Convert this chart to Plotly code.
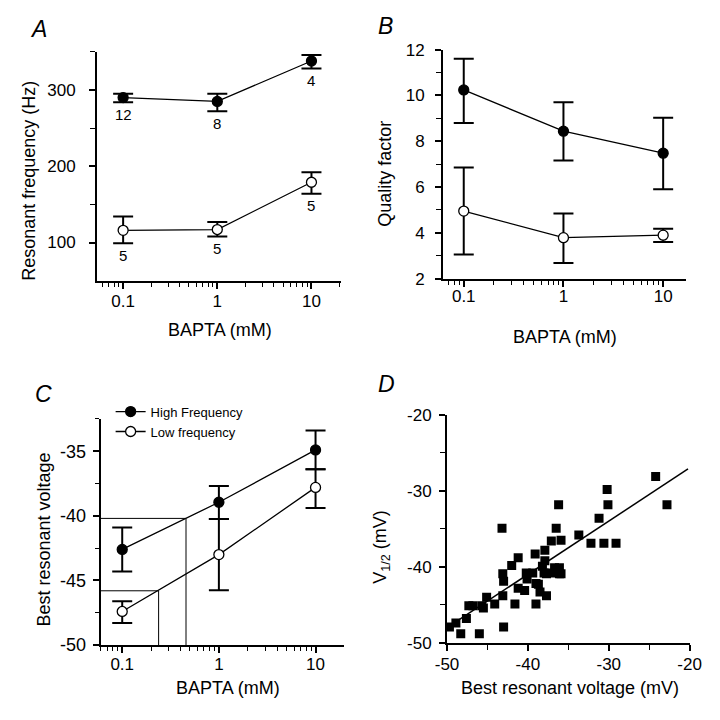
import math
import plotly.graph_objects as go

# BAPTA concentrations (mM)
bapta = [0.1, 1, 10]

# A: resonant frequency (Hz)
freq_high = [290, 285, 338]
freq_high_up = [5, 10, 8]
freq_high_dn = [6, 13, 10]
freq_low = [116, 117, 179]
freq_low_up = [18, 10, 13]
freq_low_dn = [17, 9, 15]
n_high = ["12", "8", "4"]
n_low = ["5", "5", "5"]

# B: quality factor
q_high = [10.24, 8.44, 7.48]
q_high_up = [1.36, 1.26, 1.55]
q_high_dn = [1.44, 1.28, 1.58]
q_low = [4.95, 3.79, 3.9]
q_low_up = [1.9, 1.06, 0.28]
q_low_dn = [1.9, 1.11, 0.3]

# C: best resonant voltage (mV)
v_high = [-42.6, -38.95, -34.9]
v_high_up = [1.7, 1.25, 1.5]
v_high_dn = [1.7, 1.3, 1.5]
v_low = [-47.4, -43.0, -37.8]
v_low_up = [0.8, 2.75, 1.4]
v_low_dn = [0.9, 2.75, 1.6]
hf_ref_x = [0.06, 0.457, 0.457]
hf_ref_y = [-40.2, -40.2, -50]
lf_ref_x = [0.06, 0.238, 0.238]
lf_ref_y = [-45.8, -45.8, -50]

# D: V1/2 vs best resonant voltage
best_v = [-49.7, -48.9, -48.3, -47.6, -47.3, -46.8, -46.0, -45.7, -45.5, -45.1,
          -44.1, -43.2, -43.1, -43.0, -43.1, -43.0, -42.0, -41.6, -41.2, -41.2,
          -40.4, -40.2, -40.1, -39.4, -39.1, -39.0, -39.0, -38.7, -38.5, -38.2,
          -37.9, -37.9, -37.7, -37.1, -36.7, -36.5, -36.2, -35.9, -36.1, -37.7,
          -37.1, -36.1, -33.7, -32.2, -31.2, -30.6, -30.2, -30.1, -29.1, -24.2,
          -22.8, -36.5, -35.9, -38.0]
v_half = [-47.9, -47.4, -48.8, -46.8, -45.1, -45.1, -48.8, -45.1, -45.4, -44.0,
          -44.9, -34.9, -40.9, -41.9, -43.8, -47.9, -39.8, -44.9, -38.8, -42.8,
          -43.1, -40.8, -41.6, -40.8, -38.3, -44.9, -42.2, -42.3, -43.3, -39.9,
          -37.8, -39.2, -43.8, -36.6, -40.1, -34.9, -31.8, -36.5, -40.1, -40.9,
          -40.8, -40.9, -35.8, -36.9, -33.6, -36.9, -29.8, -31.8, -36.9, -28.1,
          -31.8, -40.5, -40.9, -40.8]
fit_x = [-50, -20.2]
fit_y = [-48.0, -27.1]

# tick values / labels
log_ticks = [0.1, 1, 10]
log_ticktext = ["0.1", "1", "10"]
log_minor = [0.06, 0.07, 0.08, 0.09, 0.2, 0.3, 0.4, 0.5, 0.6, 0.7, 0.8, 0.9,
             2, 3, 4, 5, 6, 7, 8, 9, 20]
c_ticks = [-50, -45, -40, -35]
d_ticks = [-50, -40, -30, -20]

FONT = "Liberation Sans, Arial, sans-serif"
BLACK = "black"

fig = go.Figure()


def add_series(y, up, dn, xa, ya, filled, name=None, legend=False):
    fig.add_trace(go.Scatter(
        x=bapta, y=y, xaxis=xa, yaxis=ya,
        mode="lines+markers", name=name, showlegend=legend,
        line=dict(color=BLACK, width=1.3),
        marker=dict(symbol="circle", size=10,
                    color=BLACK if filled else "white",
                    line=dict(color=BLACK, width=1.3)),
        error_y=dict(type="data", symmetric=False, array=up, arrayminus=dn,
                     color=BLACK, thickness=2, width=10),
    ))


# Panel A
add_series(freq_high, freq_high_up, freq_high_dn, "x", "y", True)
add_series(freq_low, freq_low_up, freq_low_dn, "x", "y", False)
# Panel B
add_series(q_high, q_high_up, q_high_dn, "x2", "y2", True)
add_series(q_low, q_low_up, q_low_dn, "x2", "y2", False)
# Panel C reference lines and series
for rx, ry in [(hf_ref_x, hf_ref_y), (lf_ref_x, lf_ref_y)]:
    fig.add_trace(go.Scatter(x=rx, y=ry, xaxis="x3", yaxis="y3", mode="lines",
                             showlegend=False, line=dict(color=BLACK, width=1)))
add_series(v_high, v_high_up, v_high_dn, "x3", "y3", True, "High Frequency", True)
add_series(v_low, v_low_up, v_low_dn, "x3", "y3", False, "Low frequency", True)
# Panel D
fig.add_trace(go.Scatter(x=best_v, y=v_half, xaxis="x4", yaxis="y4", mode="markers",
                         showlegend=False,
                         marker=dict(symbol="square", size=9, color=BLACK)))
fig.add_trace(go.Scatter(x=fit_x, y=fit_y, xaxis="x4", yaxis="y4", mode="lines",
                         showlegend=False, line=dict(color=BLACK, width=1.5)))

# n labels under each error bar in A (annotations on a log axis take log10 x)
for xv, yv, dv, t in zip(bapta * 2, freq_high + freq_low,
                         freq_high_dn + freq_low_dn, n_high + n_low):
    fig.add_annotation(x=math.log10(xv), y=yv - dv, xref="x", yref="y", text=t,
                       showarrow=False, yshift=-12,
                       font=dict(size=15, color=BLACK, family=FONT))


def axis_style(**kw):
    d = dict(showline=True, linewidth=2, linecolor=BLACK, mirror=False,
             showgrid=False, zeroline=False, ticks="outside", ticklen=6,
             tickwidth=1.5, tickcolor=BLACK,
             tickfont=dict(size=17, color=BLACK, family=FONT))
    d.update(kw)
    return d


def minor(vals, ln=5):
    return dict(tickvals=vals, ticks="outside", ticklen=ln, tickwidth=1.2,
                tickcolor=BLACK)


def log_x(domain, rng, anchor, standoff):
    return axis_style(type="log", domain=domain, range=rng, anchor=anchor,
                      tickvals=log_ticks, ticktext=log_ticktext,
                      ticklabelstandoff=standoff, minor=minor(log_minor, 4))


fig.update_layout(
    width=720, height=720,
    margin=dict(l=0, r=0, t=0, b=0),
    paper_bgcolor="white", plot_bgcolor="white",
    font=dict(family=FONT, color=BLACK),
    xaxis=log_x([0.1222, 0.4722], [-1.277, 1.31], "y", -2),
    yaxis=axis_style(domain=[0.6125, 0.9389], range=[50, 350], anchor="x",
                     tickvals=[100, 200, 300], ticklabelstandoff=10,
                     minor=minor([150, 250, 350])),
    xaxis2=log_x([0.6194, 0.9681], [-1.207, 1.227], "y2", -5),
    yaxis2=axis_style(domain=[0.6153, 0.9421], range=[2, 12], anchor="x2",
                      tickvals=[2, 4, 6, 8, 10, 12], ticklabelstandoff=7,
                      minor=minor([3, 5, 7, 9, 11])),
    xaxis3=log_x([0.1274, 0.4764], [-1.223, 1.29], "y3", -3),
    yaxis3=axis_style(domain=[0.0926, 0.4153], range=[-50, -32.5], anchor="x3",
                      tickvals=c_ticks, ticktext=[str(v) for v in c_ticks],
                      ticklabelstandoff=3, tickfont=dict(size=18, color=BLACK, family=FONT),
                      minor=minor([-47.5, -42.5, -37.5, -32.5], 4)),
    xaxis4=axis_style(domain=[0.625, 0.9736], range=[-50, -20], anchor="y4",
                      tickvals=d_ticks, ticktext=[str(v) for v in d_ticks],
                      ticklabelstandoff=-1, minor=minor([-45, -35, -25])),
    yaxis4=axis_style(domain=[0.0958, 0.4208], range=[-50, -20], anchor="x4",
                      tickvals=d_ticks, ticktext=[str(v) for v in d_ticks],
                      ticklabelstandoff=4, minor=minor([-45, -35, -25])),
    legend=dict(x=0.1417, y=0.447, xanchor="left", yanchor="top",
                bgcolor="rgba(0,0,0,0)", font=dict(size=13, color=BLACK, family=FONT),
                tracegroupgap=0, itemwidth=30),
)


# panel letters and axis titles, placed from pixel positions
def paper_text(px, py, text, size=18, angle=0, italic=False):
    fig.add_annotation(x=px / 720, y=1 - py / 720, xref="paper", yref="paper",
                       text=f"<i>{text}</i>" if italic else text, showarrow=False,
                       textangle=angle, xanchor="center", yanchor="middle",
                       font=dict(size=size, color=BLACK, family=FONT))


paper_text(27, 21, "A", 23, italic=True)
paper_text(386, 17, "B", 23, italic=True)
paper_text(33, 395, "C", 23, italic=True)
paper_text(387, 385, "D", 23, italic=True)

paper_text(215, 330, "BAPTA (mM)")
paper_text(572, 337, "BAPTA (mM)")
paper_text(223, 697, "BAPTA (mM)")
paper_text(577, 697, "Best resonant voltage (mV)")

paper_text(18, 176, "Resonant frequency (Hz)", angle=-90)
paper_text(385, 169, "Quality factor", angle=-90)
paper_text(33, 545, "Best resonant voltage", angle=-90)
paper_text(382, 552, "V<sub>1/2</sub> (mV)", angle=-90)

fig.write_html("out.html", config={"displayModeBar": False},
               post_script="document.body.style.margin='0';")
